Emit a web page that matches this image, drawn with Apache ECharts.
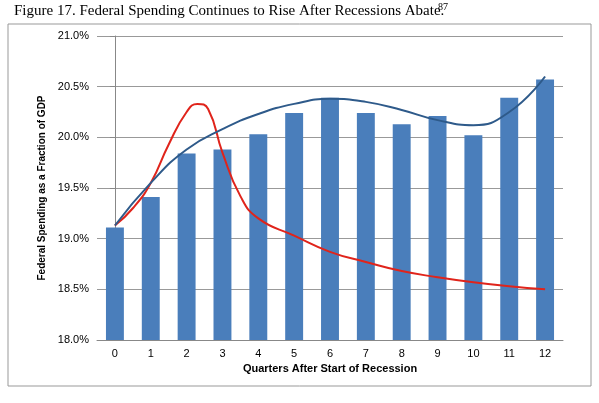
<!DOCTYPE html><html><head><meta charset="utf-8"><script src="https://cdn.jsdelivr.net/npm/echarts@6/dist/echarts.min.js"></script>
<style>body{margin:0;background:#fff}#c{width:599px;height:403px}</style></head><body><div id="c"></div><script>
const categories=['0','1','2','3','4','5','6','7','8','9','10','11','12'];
const spending=[19.11,19.41,19.84,19.88,20.03,20.24,20.39,20.24,20.13,20.21,20.02,20.39,20.57];
const redX=[0,0.5,1,1.5,2,2.3,2.6,3,3.5,4,5,6,7,8,9,10,11,12];
const redY=[19.13,19.3,19.55,19.93,20.25,20.33,20.28,19.85,19.42,19.2,19.03,18.87,18.77,18.68,18.62,18.57,18.53,18.5];
const blueX=[0,1,2,3,4,5,6,7,8,9,10,11,12];
const blueY=[19.13,19.55,19.88,20.08,20.23,20.33,20.38,20.35,20.27,20.17,20.12,20.25,20.6];
const z=(xs,ys)=>xs.map((x,i)=>[x,ys[i]]);
const ch=echarts.init(document.getElementById('c'));
ch.setOption({
 graphic:[{type:'rect',shape:{x:8,y:24,width:583,height:362},style:{fill:'none',stroke:'#999',lineWidth:1}},
  {type:'text',left:14,top:4,style:{text:'Figure 17. Federal Spending Continues to Rise After Recessions Abate.',font:'15px "Liberation Serif"',fill:'#000'}},
  {type:'text',left:438,top:2,style:{text:'87',font:'10px "Liberation Serif"',fill:'#000'}}],
 grid:{left:97,right:36,top:36,bottom:63},
 xAxis:[{type:'category',data:categories,axisTick:{show:false},axisLine:{lineStyle:{color:'#888'}},axisLabel:{color:'#000',fontSize:11,fontFamily:'Liberation Sans'},
  name:'Quarters After Start of Recession',nameLocation:'middle',nameGap:22,nameTextStyle:{fontWeight:'bold',fontSize:11,color:'#000'}},
  {type:'value',min:-0.5,max:12.5,show:false}],
 yAxis:{type:'value',min:18,max:21,interval:0.5,axisLabel:{formatter:v=>v.toFixed(1)+'%',color:'#000',fontSize:11},
  splitLine:{lineStyle:{color:'#999'}},axisLine:{show:true,lineStyle:{color:'#888'}},
  name:'Federal Spending as a Fraction of GDP',nameLocation:'middle',nameGap:50,nameTextStyle:{fontWeight:'bold',fontSize:10,color:'#000'}},
 series:[{type:'bar',data:spending,barWidth:'50%',itemStyle:{color:'#4a7ebb'}},
  {type:'line',xAxisIndex:1,data:z(redX,redY),smooth:0.5,showSymbol:false,lineStyle:{color:'#e0241b',width:2}},
  {type:'line',xAxisIndex:1,data:z(blueX,blueY),smooth:0.5,showSymbol:false,lineStyle:{color:'#2e5a8a',width:2}}]
});
</script></body></html>
